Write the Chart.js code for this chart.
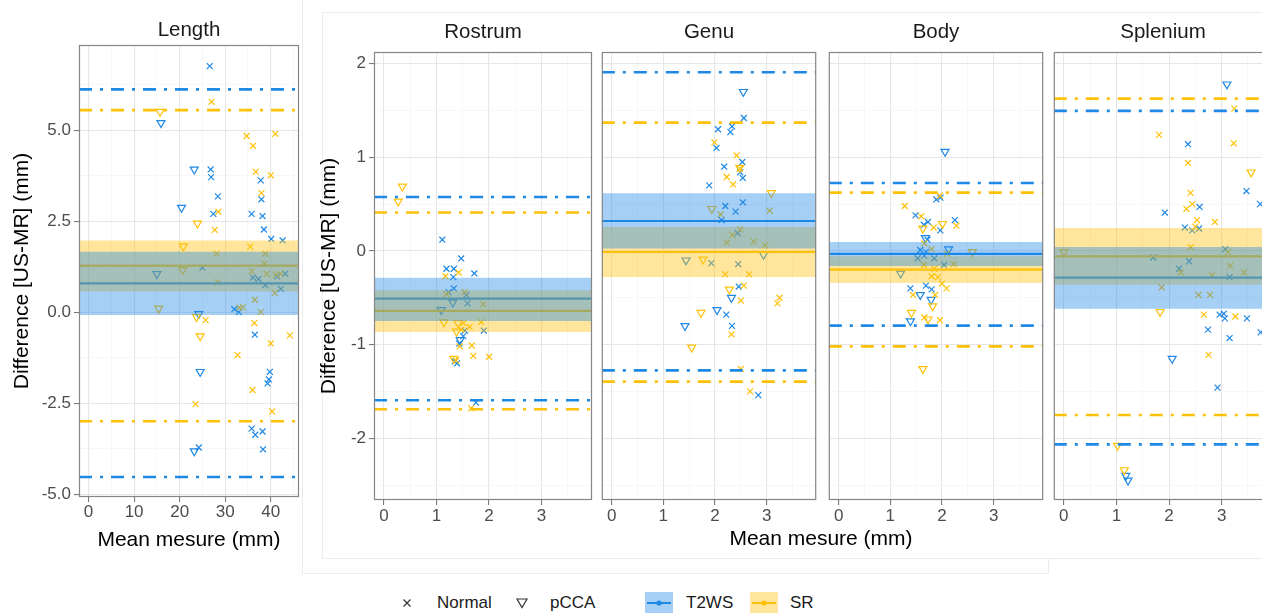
<!DOCTYPE html>
<html><head><meta charset="utf-8">
<script src="https://cdn.jsdelivr.net/npm/chart.js@4.4.1/dist/chart.umd.min.js"></script>
<style>
html,body{margin:0;padding:0;width:1262px;height:613px;overflow:hidden;background:#fff;font-family:"Liberation Sans",Arial,Helvetica,sans-serif;}
canvas{position:absolute;top:0;}
.ln{position:absolute;background:#ececec;}
.lg{position:absolute;font-size:17px;color:#1a1a1a;line-height:20px;top:593px;}
#xt{position:absolute;left:621px;width:400px;text-align:center;top:526px;font-size:21px;color:#000;line-height:24px;}
</style></head><body>
<div class="ln" style="left:302px;top:0;width:1px;height:574px"></div>
<div class="ln" style="left:302px;top:573px;width:746px;height:1px"></div>
<div class="ln" style="left:1048px;top:558px;width:1px;height:16px"></div>
<div class="ln" style="left:322px;top:12px;width:940px;height:1px"></div>
<div class="ln" style="left:322px;top:12px;width:1px;height:546px"></div>
<div class="ln" style="left:322px;top:558px;width:940px;height:1px"></div>
<canvas id="c0" width="310" height="560" style="left:0px"></canvas>
<canvas id="c1" width="300" height="560" style="left:300px"></canvas>
<canvas id="c2" width="226" height="560" style="left:596px"></canvas>
<canvas id="c3" width="226" height="560" style="left:823px"></canvas>
<canvas id="c4" width="230" height="560" style="left:1048px"></canvas>
<div id="xt">Mean mesure (mm)</div>
<svg style="position:absolute;left:401px;top:597px" width="12" height="12"><path d="M2.5 2.5L9.5 9.5M9.5 2.5L2.5 9.5" stroke="#333" stroke-width="1.2"/></svg>
<div class="lg" style="left:437px">Normal</div>
<svg style="position:absolute;left:515px;top:596px" width="14" height="14"><path d="M2 3L12 3L7 11.5Z" fill="none" stroke="#333" stroke-width="1.2"/></svg>
<div class="lg" style="left:550px">pCCA</div>
<svg style="position:absolute;left:645px;top:592px" width="28" height="21"><rect x="0" y="0" width="28" height="28" fill="rgba(30,136,229,0.4)"/><line x1="2" y1="11" x2="26" y2="11" stroke="#1E88E5" stroke-width="2"/><circle cx="14" cy="11" r="2.6" fill="#1E88E5"/></svg>
<div class="lg" style="left:686px">T2WS</div>
<svg style="position:absolute;left:750px;top:592px" width="28" height="21"><rect x="0" y="0" width="28" height="28" fill="rgba(255,193,7,0.4)"/><line x1="2" y1="11" x2="26" y2="11" stroke="#FFC107" stroke-width="2"/><circle cx="14" cy="11" r="2.6" fill="#FFC107"/></svg>
<div class="lg" style="left:790px">SR</div>
<script>
// ---------- DATA ----------
const panelNames = ['Length','Rostrum','Genu','Body','Splenium'];
// T2WS statistics per panel: mean, CI band low/high, limits of agreement low/high
const t2wsMean  = [0.79, -0.51, 0.32, -0.032, -0.285];
const t2wsBandLo = [-0.08, -0.748, 0.025, -0.16, -0.616];
const t2wsBandHi = [1.66, -0.285, 0.616, 0.096, 0.043];
const t2wsLoaLo = [-4.53, -1.595, -1.275, -0.798, -2.066];
const t2wsLoaHi = [6.12, 0.577, 1.909, 0.726, 1.496];
// SR statistics
const srMean  = [1.28, -0.64, -0.011, -0.20, -0.057];
const srBandLo = [0.57, -0.865, -0.278, -0.342, -0.36];
const srBandHi = [1.97, -0.42, 0.256, -0.057, 0.246];
const srLoaLo = [-3.00, -1.69, -1.396, -1.019, -1.752];
const srLoaHi = [5.55, 0.41, 1.371, 0.623, 1.627];

// Points [mean measure, difference]
const lengthT2wsNormal = [[26.6,6.76],[26.8,3.92],[26.9,3.71],[28.4,3.18],[27.4,2.70],[25.0,1.22],[37.8,3.62],[37.95,3.10],[35.8,2.70],[38.2,2.64],[38.5,2.27],[40.1,2.01],[42.6,1.97],[36.1,0.95],[37.3,0.91],[38.8,0.74],[41.4,0.98],[43.2,1.06],[42.2,0.64],[32.0,0.08],[33.0,0.0],[36.5,-0.62],[39.8,-1.64],[39.6,-1.85],[39.3,-1.96],[35.8,-3.20],[36.6,-3.37],[38.2,-3.28],[38.3,-3.77],[24.2,-3.72]];
const lengthT2wsPcca = [[15.9,5.20],[23.2,3.92],[20.4,2.87],[15.0,1.05],[24.2,-0.05],[24.5,-1.64],[23.2,-3.82]];
const lengthSrNormal = [[27.0,5.78],[34.7,4.84],[41.0,4.90],[36.1,4.57],[36.7,3.86],[40.0,3.76],[37.95,3.27],[28.5,2.76],[27.7,2.26],[28.1,1.61],[35.5,1.80],[38.8,1.61],[38.6,1.33],[35.8,1.12],[41.1,1.03],[42.2,1.05],[39.1,1.05],[28.4,0.82],[40.9,0.52],[36.5,0.34],[33.9,0.13],[33.1,0.12],[37.8,0.0],[25.7,-0.22],[36.4,-0.30],[44.2,-0.64],[40.0,-0.86],[32.7,-1.18],[36.0,-2.14],[40.3,-2.73],[23.5,-2.53]];
const lengthSrPcca = [[15.7,5.51],[23.9,2.44],[20.8,1.81],[20.7,1.16],[15.4,0.10],[23.7,-0.13],[24.5,-0.66]];

const rostrumT2wsNormal = [[1.11,0.12],[1.47,-0.08],[1.19,-0.19],[1.33,-0.19],[1.32,-0.28],[1.72,-0.24],[1.33,-0.40],[1.23,-0.44],[1.57,-0.47],[1.59,-0.56],[1.90,-0.85],[1.54,-0.85],[1.51,-0.91],[1.43,-0.99],[1.35,-1.18],[1.39,-1.20],[1.75,-1.62]];
const rostrumT2wsPcca = [[1.09,-0.63],[1.31,-0.55],[1.45,-0.95]];
const rostrumSrNormal = [[1.17,-0.27],[1.42,-0.23],[1.19,-0.46],[1.54,-0.44],[1.89,-0.57],[1.85,-0.76],[1.51,-0.77],[1.63,-0.81],[1.44,-1.02],[1.67,-1.01],[1.70,-1.12],[2.0,-1.13],[1.37,-1.17],[1.66,-1.68],[1.47,-0.84]];
const rostrumSrPcca = [[0.35,0.69],[0.27,0.53],[1.14,-0.76],[1.41,-0.77],[1.38,-0.86],[1.33,-1.15]];

const genuT2wsNormal = [[2.56,1.42],[2.33,1.33],[2.06,1.30],[2.30,1.27],[2.03,1.10],[2.53,0.95],[2.18,0.90],[2.49,0.84],[2.54,0.78],[1.89,0.70],[2.54,0.52],[2.20,0.48],[2.40,0.42],[2.13,0.33],[2.44,0.19],[2.45,-0.14],[1.93,-0.13],[2.46,-0.38],[2.22,-0.68],[2.33,-0.80],[2.84,-1.54]];
const genuT2wsPcca = [[2.55,1.70],[1.42,-0.80],[2.04,-0.63],[2.32,-0.50],[1.44,-0.10],[2.94,-0.04]];
const genuSrNormal = [[1.99,1.16],[2.42,1.02],[2.23,0.79],[2.35,0.71],[2.48,0.88],[2.11,0.39],[3.06,0.43],[2.49,0.23],[2.34,0.17],[2.23,0.09],[2.75,0.10],[2.97,0.06],[2.20,-0.25],[2.66,-0.25],[2.56,-0.37],[2.50,-0.53],[3.25,-0.50],[3.21,-0.56],[2.32,-0.89],[2.50,-1.26],[2.68,-1.50]];
const genuSrPcca = [[2.48,0.89],[3.09,0.62],[1.94,0.45],[1.77,-0.09],[2.28,-0.41],[1.73,-0.66],[1.55,-1.03]];

const bodyT2wsNormal = [[1.89,0.55],[1.97,0.57],[1.49,0.38],[2.25,0.33],[1.65,0.28],[1.73,0.31],[1.97,0.22],[1.72,0.12],[1.58,0.01],[1.69,-0.01],[1.53,-0.08],[1.85,-0.08],[2.04,-0.15],[1.66,-0.05],[1.39,-0.40],[1.69,-0.37],[1.80,-0.41]];
const bodyT2wsPcca = [[2.06,1.06],[2.13,0.02],[1.68,0.14],[1.58,-0.47],[1.79,-0.52],[1.39,-0.75],[1.20,-0.24]];
const bodySrNormal = [[1.28,0.48],[1.60,0.37],[1.84,0.25],[2.28,0.27],[1.96,0.59],[1.66,0.08],[1.80,0.02],[2.10,-0.03],[1.65,-0.15],[2.23,-0.14],[1.85,-0.19],[1.80,-0.27],[1.92,-0.28],[2.0,-0.35],[2.09,-0.40],[1.44,-0.47],[1.87,-0.47],[1.66,-0.71],[1.96,-0.74]];
const bodySrPcca = [[2.01,0.29],[1.63,0.24],[2.59,-0.01],[1.82,-0.59],[1.41,-0.66],[1.73,-0.73],[1.63,-1.26]];

const spleniumT2wsNormal = [[2.36,1.14],[3.47,0.64],[3.73,0.50],[2.58,0.47],[1.92,0.41],[2.30,0.25],[2.44,0.22],[2.57,0.24],[3.07,0.02],[1.70,-0.07],[2.38,-0.11],[2.19,-0.19],[3.15,-0.28],[2.96,-0.68],[3.04,-0.67],[3.06,-0.72],[3.48,-0.72],[2.74,-0.84],[3.15,-0.93],[3.74,-0.87],[2.92,-1.46]];
const spleniumT2wsPcca = [[3.10,1.78],[2.06,-1.15],[1.18,-2.40],[1.22,-2.45]];
const spleniumSrNormal = [[1.81,1.24],[3.23,1.15],[3.24,1.52],[2.36,0.94],[2.41,0.62],[2.44,0.50],[2.33,0.45],[2.53,0.33],[2.87,0.31],[2.50,0.26],[2.41,0.04],[3.12,-0.01],[3.16,-0.16],[3.43,-0.23],[2.22,-0.23],[2.82,-0.26],[1.86,-0.39],[2.56,-0.47],[2.78,-0.47],[2.66,-0.68],[3.26,-0.70],[2.75,-1.11]];
const spleniumSrPcca = [[3.56,0.84],[0.0,-0.01],[1.83,-0.65],[1.02,-2.08],[1.15,-2.34]];

// tick labels
const lengthXTicks = [0,10,20,30,40];
const lengthYTicks = [-5.0,-2.5,0.0,2.5,5.0];
const facetXTicks = [0,1,2,3];
const facetYTicks = [-2,-1,0,1,2];

// ---------- RENDER ----------
const FONT = '"Liberation Sans", Arial, Helvetica, sans-serif';
Chart.defaults.font.family = FONT;
const BLUE='#1E88E5', YELLOW='#FFC107';
const BLUE_BAND='rgba(30,136,229,0.4)', YELLOW_BAND='rgba(255,193,7,0.4)';
const DASH=[13,8,3,8];

const pointSets = [
  [lengthT2wsNormal,lengthT2wsPcca,lengthSrNormal,lengthSrPcca],
  [rostrumT2wsNormal,rostrumT2wsPcca,rostrumSrNormal,rostrumSrPcca],
  [genuT2wsNormal,genuT2wsPcca,genuSrNormal,genuSrPcca],
  [bodyT2wsNormal,bodyT2wsPcca,bodySrNormal,bodySrPcca],
  [spleniumT2wsNormal,spleniumT2wsPcca,spleniumSrNormal,spleniumSrPcca]
];

const layoutSpec = [
  {canvas:'c0', xr:[-2.1,46.2], yr:[-5.08,7.34], xMajor:lengthXTicks, xMinorStep:5, yMajor:lengthYTicks, yMinorStep:1.25,
   yFmt:v=>v.toFixed(1), pad:{top:45,right:11,left:0,bottom:0}, yWidth:79, xHeight:63, yTitle:true, yTitlePad:9.4, xTitle:true, yTicks:true},
  {canvas:'c1', xr:[-0.19,3.96], yr:[-2.66,2.125], xMajor:facetXTicks, xMinorStep:0.5, yMajor:facetYTicks, yMinorStep:0.5,
   yFmt:v=>String(v), pad:{top:52,right:8,left:0,bottom:0}, yWidth:74, xHeight:60, yTitle:true, yTitlePad:16.4, xTitle:false, yTicks:true},
  {canvas:'c2', xr:[-0.19,3.96], yr:[-2.66,2.125], xMajor:facetXTicks, xMinorStep:0.5, yMajor:facetYTicks, yMinorStep:0.5,
   yFmt:v=>String(v), pad:{top:52,right:4,left:4,bottom:0}, yWidth:0, xHeight:60, yTitle:false, xTitle:false, yTicks:false},
  {canvas:'c3', xr:[-0.19,3.96], yr:[-2.66,2.125], xMajor:facetXTicks, xMinorStep:0.5, yMajor:facetYTicks, yMinorStep:0.5,
   yFmt:v=>String(v), pad:{top:52,right:5,left:4,bottom:0}, yWidth:0, xHeight:60, yTitle:false, xTitle:false, yTicks:false},
  {canvas:'c4', xr:[-0.19,3.96], yr:[-2.66,2.125], xMajor:facetXTicks, xMinorStep:0.5, yMajor:facetYTicks, yMinorStep:0.5,
   yFmt:v=>String(v), pad:{top:52,right:4,left:4,bottom:0}, yWidth:0, xHeight:60, yTitle:false, xTitle:false, yTicks:false}
];

const boxPlugin = {id:'box', afterDraw(c){const a=c.chartArea, ctx=c.ctx; ctx.save(); ctx.strokeStyle='#858585'; ctx.lineWidth=1.2; ctx.strokeRect(a.left+0.5,a.top+0.5,a.width-1,a.height-1); ctx.restore();}};
const titlePlugin = {id:'ptitle', afterDraw(c, args, opts){const a=c.chartArea, ctx=c.ctx; ctx.save(); ctx.fillStyle='#1a1a1a'; ctx.font='20.5px '+FONT; ctx.textAlign='center'; ctx.textBaseline='middle'; ctx.fillText(opts.text,(a.left+a.right)/2,opts.y); ctx.restore();}};

function near(v, list){return list.some(m=>Math.abs(m-v)<1e-6);}
function tickList(r, step){const out=[]; for(let k=Math.ceil(r[0]/step-1e-9); k*step<=r[1]+1e-9; k++) out.push(+(k*step).toFixed(6)); return out;}

panelNames.forEach((name, i) => {
  const L = layoutSpec[i];
  const xr = L.xr;
  const hline = (y, color, dash, w, order) => ({type:'line', data:xr.map(x=>({x, y})), borderColor:color, borderWidth:w, borderDash:dash, pointRadius:0, fill:false, order});
  const band = (lo, hi, color, order) => ({type:'line', data:xr.map(x=>({x, y:hi})), borderWidth:0, borderColor:'rgba(0,0,0,0)', backgroundColor:color, fill:{value:lo}, pointRadius:0, order});
  const pset = (arr, color, tri) => ({type:'scatter', data:arr.map(p=>({x:p[0], y:p[1]})), showLine:false,
      pointStyle: tri ? 'triangle' : 'crossRot', pointRotation: tri ? 180 : 0, pointRadius: tri ? 4.6 : 4.2,
      pointBorderColor:color, pointBackgroundColor:'rgba(0,0,0,0)', pointBorderWidth:1.2, order:3});
  const P = pointSets[i];
  const datasets = [
    band(t2wsBandLo[i], t2wsBandHi[i], BLUE_BAND, 0),
    band(srBandLo[i], srBandHi[i], YELLOW_BAND, 1),
    hline(t2wsMean[i], BLUE, [], 2.2, 2),
    hline(t2wsLoaHi[i], BLUE, DASH, 2.6, 2),
    hline(t2wsLoaLo[i], BLUE, DASH, 2.6, 2),
    hline(srMean[i], YELLOW, [], 2.2, 2),
    hline(srLoaHi[i], YELLOW, DASH, 2.6, 2),
    hline(srLoaLo[i], YELLOW, DASH, 2.6, 2),
    pset(P[2], YELLOW, false), pset(P[3], YELLOW, true),
    pset(P[0], BLUE, false), pset(P[1], BLUE, true)
  ];
  const xTicks = tickList(xr, L.xMinorStep);
  const yTicks = tickList(L.yr, L.yMinorStep);
  const gridCol = (maj) => c => (c.tick && near(c.tick.value, maj)) ? '#e6e6e6' : '#f3f3f3';
  const gridW = (maj) => c => (c.tick && near(c.tick.value, maj)) ? 1.1 : 0.7;
  const tickCol = (maj) => c => (c.tick && near(c.tick.value, maj)) ? '#7a7a7a' : 'rgba(0,0,0,0)';
  new Chart(document.getElementById(L.canvas), {
    type:'scatter',
    data:{datasets},
    plugins:[boxPlugin, titlePlugin],
    options:{
      responsive:false, animation:false, devicePixelRatio:1,
      layout:{padding:L.pad},
      plugins:{legend:{display:false}, tooltip:{enabled:false}, title:{display:false},
               ptitle:{text:name, y: i===0 ? 30 : 32}},
      elements:{line:{tension:0}},
      scales:{
        x:{type:'linear', min:xr[0], max:xr[1],
           afterBuildTicks:s=>{s.ticks = xTicks.map(v=>({value:v}));},
           afterFit:s=>{s.height = L.xHeight;},
           ticks:{autoSkip:false, maxRotation:0, minRotation:0, padding:i===0?0:1, color:'#4D4D4D', font:{size:17},
                  callback:v=> near(v, L.xMajor) ? String(v) : ''},
           grid:{color:gridCol(L.xMajor), lineWidth:gridW(L.xMajor), tickLength:5, tickColor:tickCol(L.xMajor), tickWidth:1.1, drawTicks:true},
           border:{display:false},
           title:{display:L.xTitle, text:'Mean mesure (mm)', color:'#000', font:{size:21}, padding:{top:0,bottom:7.4}}
        },
        y:{type:'linear', min:L.yr[0], max:L.yr[1],
           afterBuildTicks:s=>{s.ticks = yTicks.map(v=>({value:v}));},
           afterFit:s=>{s.width = L.yWidth;},
           ticks:{display:L.yTicks, autoSkip:false, padding:3, color:'#4D4D4D', font:{size:17},
                  callback:v=> near(v, L.yMajor) ? L.yFmt(v) : ''},
           grid:{color:gridCol(L.yMajor), lineWidth:gridW(L.yMajor), tickLength:5, tickColor:tickCol(L.yMajor), tickWidth:1.1, drawTicks:L.yTicks},
           border:{display:false},
           title:{display:L.yTitle, text:'Difference [US-MR] (mm)', color:'#000', font:{size:21}, padding:{top:L.yTitlePad||0,bottom:0}}
        }
      }
    }
  });
});
</script>
</body></html>
